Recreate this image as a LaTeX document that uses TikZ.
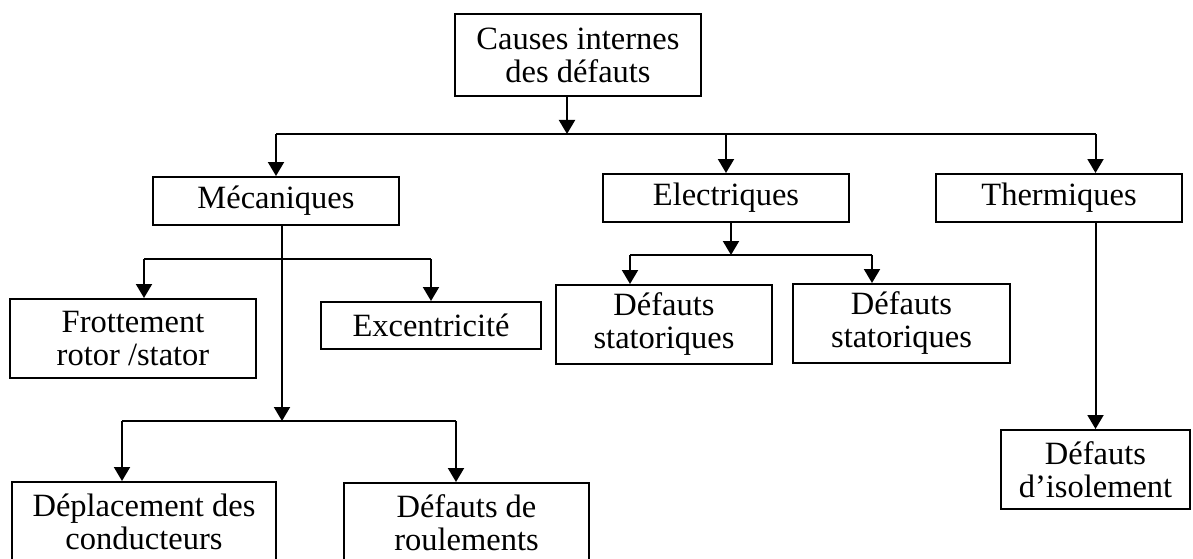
\documentclass[tikz,border=0pt]{standalone}
\usepackage{fontspec}
\setmainfont{Liberation Serif}
\usetikzlibrary{arrows.meta}

\begin{document}
\begin{tikzpicture}
        [x=1pt, y=-1pt, line width=2pt, >={Triangle[width=16pt,length=14pt]},
         cbox/.style={shape=rectangle, draw=black, align=center, inner sep=0pt,
                      font=\fontsize{32.5}{33}\selectfont}]
        \path[fill=white, use as bounding box] (0,0) rectangle (1193,559);

        \node[cbox, minimum width=246pt, minimum height=82pt] (cause) at (578, 55) {Causes internes\\des défauts};
        \node[cbox, minimum width=246pt, minimum height=48pt] (meca) at (276, 201) {Mécaniques};
        \node[cbox, minimum width=246pt, minimum height=48pt] (elec) at (726, 198) {Electriques};
        \node[cbox, minimum width=246pt, minimum height=48pt] (therm) at (1059, 198) {Thermiques};
        \node[cbox, minimum width=246pt, minimum height=79pt] (frot) at (133, 338.5) {Frottement\\rotor /stator};
        \node[cbox, minimum width=220pt, minimum height=47pt] (exc) at (431, 325.5) {Excentricité};
        \node[cbox, minimum width=216pt, minimum height=79pt] (stat1) at (664, 324.5) {Défauts\\statoriques};
        \node[cbox, minimum width=217pt, minimum height=79pt] (stat2) at (901.5, 323.5) {Défauts\\statoriques};
        \node[cbox, minimum width=264pt, minimum height=79pt] (depl) at (144, 521.5) {Déplacement des\\conducteurs};
        \node[cbox, minimum width=245pt, minimum height=79pt] (roul) at (466.5, 522.5) {Défauts de\\roulements};
        \node[cbox, minimum width=189pt, minimum height=79pt] (isol) at (1095.5, 469.5) {Défauts\\d’isolement};

        % junctions
        \coordinate (j0) at (567, 134);
        \coordinate (j1) at (282, 259);
        \coordinate (j2) at (282, 421);
        \coordinate (j3) at (731, 255);
        \coordinate (f1) at (144, 259);
        \coordinate (e1) at (431, 259);
        \coordinate (d1) at (122, 421);
        \coordinate (r1) at (456, 421);
        \coordinate (s1) at (630, 255);
        \coordinate (s2) at (872, 255);

        % top level
        \draw [->] (cause.south -| j0) -- (j0);
        \draw (meca.north |- j0) -- (isol.north |- j0);
        \draw [->] (meca.north |- j0) -- (meca.north);
        \draw [->] (elec.north |- j0) -- (elec.north);
        \draw [->] (isol.north |- j0) -- (isol.north |- therm.north);

        % mecaniques
        \draw [->] (meca.south -| j2) -- (j2);
        \draw (f1) -- (e1);
        \draw [->] (f1) -- (frot.north -| f1);
        \draw [->] (e1) -- (exc.north -| e1);
        \draw (d1) -- (r1);
        \draw [->] (d1) -- (depl.north -| d1);
        \draw [->] (r1) -- (roul.north -| r1);

        % electriques
        \draw [->] (elec.south -| j3) -- (j3);
        \draw (s1) -- (s2);
        \draw [->] (s1) -- (stat1.north -| s1);
        \draw [->] (s2) -- (stat2.north -| s2);

        % thermiques
        \draw [->] (therm.south -| isol.north) -- (isol.north);
\end{tikzpicture}
\end{document}
